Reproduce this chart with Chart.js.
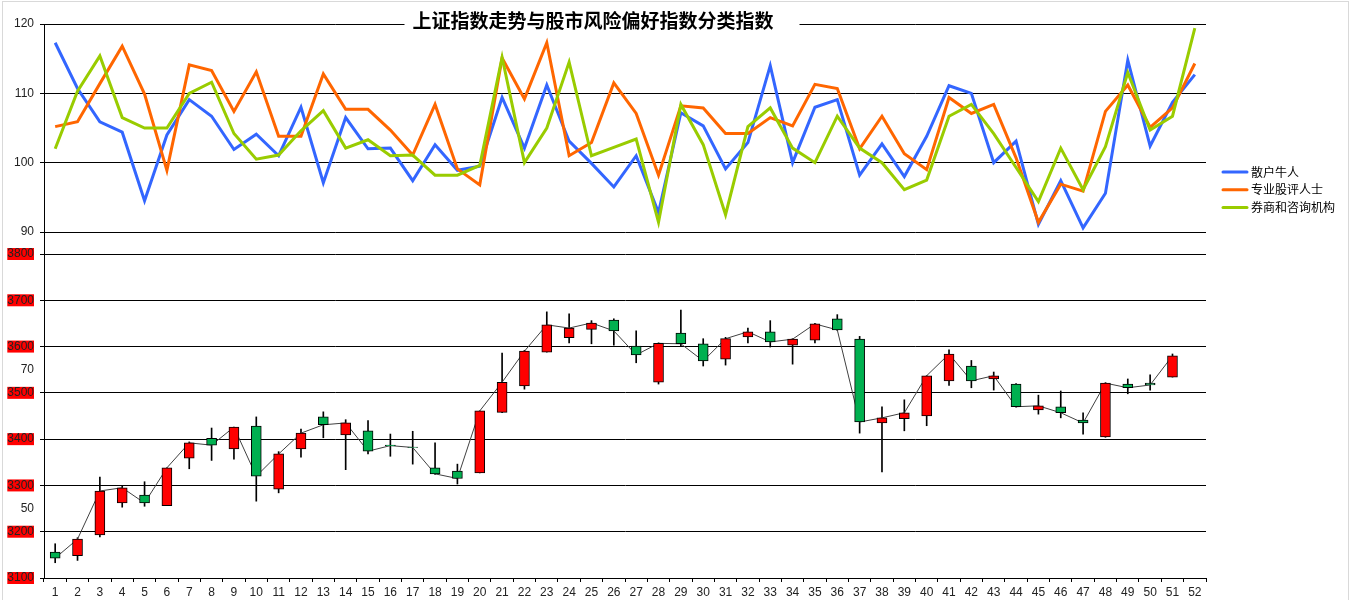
<!DOCTYPE html>
<html lang="zh">
<head>
<meta charset="UTF-8">
<title>上证指数走势与股市风险偏好指数分类指数</title>
<script src="https://cdn.jsdelivr.net/npm/chart.js"></script>
<style>
    body { margin: 0; background: #fff; }
</style>
</head>
<body>

<canvas id="graphique" width="1352" height="600"></canvas>

<script>
    const titre = '上证指数走势与股市风险偏好指数分类指数';

    const semaines = ['1','2','3','4','5','6','7','8','9','10','11','12','13','14','15','16','17','18','19','20',
        '21','22','23','24','25','26','27','28','29','30','31','32','33','34','35','36','37','38','39','40',
        '41','42','43','44','45','46','47','48','49','50','51','52'];

    // indices de risque (panneau du haut)
    const sanhu = [117.3,110.7,105.9,104.4,94.5,104.0,109.1,106.7,101.9,104.1,101.0,108.0,97.1,106.5,102.0,102.1,97.4,102.6,98.9,99.5,
        109.4,102.1,111.2,103.1,99.9,96.5,101.0,92.8,107.2,105.3,99.1,102.9,114.0,100.0,108.0,109.1,98.2,102.7,98.0,103.8,
        111.1,110.0,100.0,103.1,91.1,97.4,90.6,95.6,114.8,102.4,108.7,112.7];
    const guping = [105.2,105.9,111.4,116.8,109.9,98.9,114.1,113.3,107.4,113.1,103.8,103.8,112.8,107.7,107.7,104.7,101.1,108.4,99.1,96.8,
        115.1,109.2,117.3,101.0,102.9,111.5,107.1,98.2,108.2,107.9,104.2,104.2,106.5,105.3,111.3,110.7,102.0,106.7,101.3,99.0,
        109.4,107.1,108.4,100.7,91.4,96.9,95.9,107.4,111.2,105.1,107.9,114.3];
    const jigou = [102.0,110.3,115.4,106.5,105.0,105.0,110.0,111.6,104.2,100.5,101.1,104.6,107.5,102.1,103.3,101.0,101.1,98.2,98.2,99.6,
        115.2,100.0,105.0,114.5,101.0,102.2,103.4,91.4,108.4,102.6,92.5,105.2,107.9,102.1,100.0,106.7,102.1,100.0,96.1,97.5,
        106.7,108.4,104.2,99.3,94.4,102.1,96.1,102.3,113.0,104.7,106.7,119.4];

    // bougies du Shanghai Composite (panneau du bas)
    const ouverture = [3156,3148,3193,3262,3279,3256,3359,3402,3379,3428,3292,3379,3448,3409,3418,3387,3383,3338,3331,3327,
        3458,3515,3588,3619,3637,3657,3601,3523,3629,3606,3573,3621,3632,3603,3614,3660,3616,3435,3444,3450,
        3526,3558,3530,3519,3463,3470,3441,3405,3519,3521,3534];
    const cloture = [3143,3184,3288,3295,3262,3338,3392,3387,3426,3320,3368,3413,3431,3435,3374,3386,3382,3325,3315,3461,
        3523,3590,3647,3640,3651,3634,3582,3607,3606,3569,3617,3632,3610,3616,3649,3636,3437,3446,3457,3537,
        3584,3526,3537,3470,3472,3457,3435,3521,3511,3517,3580];
    const plusHaut = [3174,3187,3318,3298,3308,3338,3394,3424,3426,3448,3373,3422,3459,3442,3440,3411,3417,3392,3346,3461,
        3586,3592,3675,3671,3656,3660,3634,3608,3679,3617,3620,3640,3656,3617,3650,3669,3622,3470,3485,3537,
        3593,3570,3545,3520,3495,3504,3457,3522,3530,3539,3584];
    const plusBas = [3133,3138,3189,3253,3255,3256,3336,3354,3357,3266,3284,3361,3403,3334,3368,3363,3346,3324,3303,3327,
        3457,3508,3588,3608,3606,3603,3565,3519,3601,3558,3560,3608,3599,3562,3608,3635,3413,3329,3418,3429,
        3516,3511,3506,3469,3454,3446,3411,3404,3498,3506,3534];

    const graduationsHaut = [90, 100, 110, 120];
    const graduationsBas = [3100,3150,3200,3250,3300,3350,3400,3450,3500,3550,3600,3650,3700,3750,3800];
    const etiquettesBas = ['3100','','3200','50','3300','','3400','','3500','70','3600','','3700','','3800'];

    const corps = ouverture.map((o, i) => [o, cloture[i]]);
    const meches = plusBas.map((b, i) => [b, plusHaut[i]]);
    const couleursCorps = ouverture.map((o, i) => cloture[i] >= o ? '#ff0000' : '#00b050');

    const policeAxe = { family: 'Liberation Sans', size: 12, lineHeight: 1 };

    const decor = {
        id: 'decor',
        afterDraw(chart) {
            const c = chart.ctx;
            c.save();
            c.strokeStyle = '#d9d9d9';
            c.lineWidth = 1;
            c.strokeRect(2.5, 1.5, 1346, 620);

            // titre par-dessus la ligne 120
            c.font = 'bold 19px "Noto Sans CJK SC"';
            const w = c.measureText(titre).width;
            const cx = 593;
            c.fillStyle = '#fff';
            c.fillRect(cx - w / 2 - 8, 10, w + 34, 24);
            c.fillStyle = '#000';
            c.textAlign = 'center';
            c.textBaseline = 'middle';
            c.fillText(titre, cx, 21);

            // légende
            c.font = '12px "Noto Sans CJK SC"';
            c.textAlign = 'left';
            c.lineCap = 'round';
            for (let i = 0; i < 3; i++) {
                const ds = chart.data.datasets[i];
                const y = 172 + i * 17.8;
                c.strokeStyle = ds.borderColor;
                c.lineWidth = 3;
                c.beginPath();
                c.moveTo(1223, y);
                c.lineTo(1247, y);
                c.stroke();
                c.fillStyle = '#000';
                c.fillText(ds.label, 1251, y);
            }
            c.restore();
        }
    };

    const ctx = document.getElementById('graphique').getContext('2d');

    const chart = new Chart(ctx, {
        type: 'bar',
        data: {
            labels: semaines,
            datasets: [
                { type: 'line', label: '散户牛人', data: sanhu, yAxisID: 'yHaut', borderColor: '#3366ff', borderWidth: 3, pointRadius: 0, order: 5 },
                { type: 'line', label: '专业股评人士', data: guping, yAxisID: 'yHaut', borderColor: '#ff6600', borderWidth: 3, pointRadius: 0, order: 4 },
                { type: 'line', label: '券商和咨询机构', data: jigou, yAxisID: 'yHaut', borderColor: '#99cc00', borderWidth: 3, pointRadius: 0, order: 3 },
                { type: 'bar', label: '实体', data: corps, yAxisID: 'yBas', backgroundColor: couleursCorps, borderColor: '#000', borderWidth: 1, borderSkipped: false, barThickness: 10, grouped: false, order: 0 },
                { type: 'line', label: '收盘', data: cloture, yAxisID: 'yBas', borderColor: '#404040', borderWidth: 1, pointRadius: 0, order: 1 },
                { type: 'bar', label: '影线', data: meches, yAxisID: 'yBas', backgroundColor: '#000', borderWidth: 0, barThickness: 1, grouped: false, order: 2 }
            ]
        },
        options: {
            responsive: false,
            animation: false,
            devicePixelRatio: 1,
            layout: { padding: { left: 0, right: 146, top: 24, bottom: 0 } },
            plugins: {
                legend: { display: false },
                tooltip: { enabled: false }
            },
            scales: {
                x: {
                    offset: true,
                    grid: { offset: true, drawOnChartArea: false, color: '#000', tickLength: 4 },
                    border: { color: '#000' },
                    ticks: { autoSkip: false, maxRotation: 0, padding: 3, color: '#222', font: { family: 'Liberation Sans', size: 12 } },
                    afterFit: s => { s.height = 22; }
                },
                yBas: {
                    position: 'left',
                    stack: 'pile',
                    stackWeight: 324,
                    weight: 0,
                    min: 3100,
                    max: 3800,
                    afterBuildTicks: s => { s.ticks = graduationsBas.map(v => ({ value: v })); },
                    grid: {
                        color: c => (c.tick && c.tick.value % 100 === 0) ? '#000' : 'rgba(0,0,0,0)',
                        tickLength: 4
                    },
                    border: { color: '#000' },
                    ticks: {
                        autoSkip: false,
                        padding: 6,
                        color: '#222',
                        font: policeAxe,
                        callback: (v, i) => etiquettesBas[i],
                        showLabelBackdrop: c => c.tick && c.tick.value % 100 === 0,
                        backdropColor: '#ff0000',
                        backdropPadding: 0
                    },
                    afterFit: s => { s.width = 44; }
                },
                yHaut: {
                    position: 'left',
                    stack: 'pile',
                    stackWeight: 230,
                    weight: 1,
                    min: 86.83,
                    max: 120,
                    afterBuildTicks: s => { s.ticks = graduationsHaut.map(v => ({ value: v })); },
                    grid: { color: '#000', tickLength: 4 },
                    border: { color: '#000' },
                    ticks: { autoSkip: false, padding: 6, color: '#222', font: policeAxe },
                    afterFit: s => { s.width = 44; }
                }
            }
        },
        plugins: [decor]
    });
</script>

</body>
</html>
